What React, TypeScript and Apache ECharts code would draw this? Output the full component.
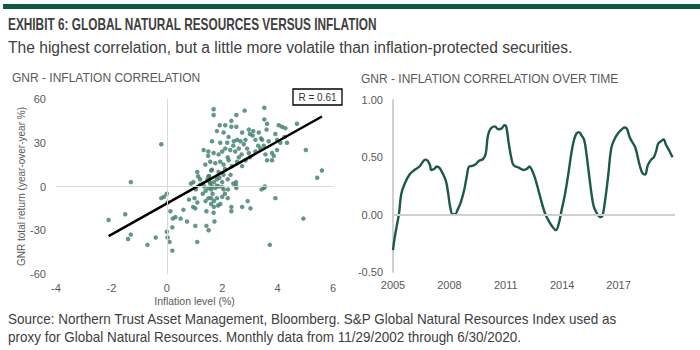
import React, { useEffect, useRef } from "react";
import * as echarts from "echarts";

// ---- Scatter data: inflation level (%) vs GNR total return (yoy %) ----
const inflation = [
  -2.1, -1.5, -1.4, -1.3, -1.3, -0.7, -0.4, -0.2, -0.2, -0.1, 0.0, 0.03, 0.0, 0.03, 0.1, 0.2, 0.2, 0.13, 0.22, 0.31,
  0.5, 0.73, 0.6, 1.03, 1.1, 1.03, 0.8, 1.0, 1.1, 0.95, 0.87, 0.96, 1.05, 1.43, 1.51, 1.43, 1.3, 1.4, 1.4, 1.5,
  1.5, 1.6, 1.7, 1.6, 1.63, 1.75, 1.87, 1.69, 1.72, 1.85, 1.93, 1.81, 1.6, 1.65, 2.05, 2.21, 2.51, 2.33, 2.33, 2.72,
  2.92, 3.02, 3.42, 3.51, 3.54, 3.92, 4.93, 3.72, 2.1, 2.2, 2.0, 1.7,
  1.1, 1.13, 1.2, 1.2, 1.3, 1.35, 1.47, 1.53, 1.6, 1.5, 1.33, 1.7, 1.55, 1.57, 1.81, 2.0, 1.81, 2.0, 1.51, 1.63,
  1.87, 2.05, 1.39, 1.57, 1.75, 1.93, 2.05, 2.23, 2.35, 2.54, 2.72, 2.84, 1.49, 1.69, 1.87, 2.0, 2.11, 2.29, 2.47, 2.6,
  2.78, 2.9, 2.96, 3.2, 3.38, 3.5, 3.56, 3.8, 3.98, 3.62, 3.86, 3.8, 5.02, 5.43, 5.6, 2.2, 2.1, 2.3, 1.9, 2.2,
  2.4, 2.5, 2.5, 2.6, 2.7, 3.0, 3.3, 2.4,
  1.69, 1.69, 3.52, 3.52, 2.81, 2.51, 1.91, 2.11, 2.33, 2.33, 1.81, 2.05, 2.23, 2.51, 2.72, 2.96, 3.12, 3.32, 3.62, 3.6,
  3.92, 4.04, 4.16, 4.28, 4.7, 4.25, 4.34, 4.1, 3.98, 3.68, 3.44, 3.2, 2.84, 2.66, 2.42, 2.54, 2.18, 1.93, 1.63, 3.1,
  3.0, 3.4,
];
const gnrReturn = [
  -23, -19, -36, -33, 3, -40, -35, 29, -8, -7, -5, -11, -31, -35, -38, -44, -28, -17, -22, -21,
  -22, -24, -16, -27, -38, -15, -9, -8, -11, -14, 2, 3, -2, -27, -30, -17, -5, -3, -10, -8,
  -1, -8, -10, -2, 0, -1, 0, -18, -24, -13, -12, -8, -12, -5, -2, -2, -1, -14, -17, -14,
  -10, -15, -2, -1, 0, -8, -22, -40, -5, -8, -7, -14,
  10, 7, 5, 1, 2, 0, 5, 7, 11, 24, 25, 3, 3, 2, 5, 3, 0.5, -0.4, 7, 11.5,
  10, 8, 15, 17, 16, 17, 15, 18, 14, 17, 14, 18, 21, 23, 22, 24, 26, 25, 24, 26,
  29, 26, 23, 24, 26, 28, 22, 23, 25, 18, 21, 18, 25, 6, 11, 20, 12, 8, 6, 5,
  2, 0.5, 3, 20, 22, 20, 28, 28,
  53, 49, 54, 46, 52, 49, 42, 42, 45, 41, 38, 37, 34, 41, 37, 39, 38, 37, 43, 39,
  36, 42, 41, 40, 43, 34, 30, 30, 32, 31, 32, 32, 32, 31, 31, 32, 30, 30, 31, 35,
  36, 33,
];
const trendX = [-2.1, 5.6];
const trendY = [-34, 48];
const rLabel = "R = 0.61";

// ---- Rolling correlation over time ----
const years = [
  2005.0, 2005.09, 2005.21, 2005.32, 2005.44, 2005.62, 2005.88, 2006.14, 2006.41, 2006.58, 2006.72, 2006.85, 2006.97,
  2007.04, 2007.2, 2007.32, 2007.46, 2007.64, 2007.82, 2007.94, 2008.04, 2008.17, 2008.31, 2008.43, 2008.61, 2008.78,
  2008.92, 2009.05, 2009.22, 2009.4, 2009.58, 2009.79, 2009.93, 2010.05, 2010.19, 2010.42, 2010.6, 2010.77, 2010.93,
  2011.02, 2011.16, 2011.3, 2011.42, 2011.69, 2011.95, 2012.13, 2012.25, 2012.39, 2012.57, 2012.74, 2012.92, 2013.09,
  2013.27, 2013.5, 2013.66, 2013.8, 2013.97, 2014.15, 2014.33, 2014.5, 2014.64, 2014.77, 2014.89, 2015.03, 2015.17,
  2015.29, 2015.42, 2015.56, 2015.68, 2015.82, 2016.0, 2016.12, 2016.26, 2016.44, 2016.61, 2016.79, 2016.97, 2017.14,
  2017.32, 2017.44, 2017.58, 2017.7, 2017.88, 2018.02, 2018.14, 2018.28, 2018.41, 2018.55, 2018.73, 2018.87, 2018.99,
  2019.11, 2019.25, 2019.39, 2019.52, 2019.69, 2019.87,
];
const correlation = [
  -0.31, -0.2, -0.09, 0.01, 0.18, 0.27, 0.35, 0.39, 0.42, 0.46, 0.48, 0.47, 0.43,
  0.39, 0.4, 0.42, 0.41, 0.36, 0.29, 0.18, 0.07, 0.005, 0.005, 0.04, 0.11, 0.21,
  0.33, 0.42, 0.425, 0.44, 0.47, 0.485, 0.53, 0.69, 0.75, 0.77, 0.745, 0.75, 0.78,
  0.77, 0.62, 0.49, 0.43, 0.41, 0.39, 0.4, 0.42, 0.39, 0.31, 0.21, 0.1, 0.01,
  -0.05, -0.11, -0.135, -0.09, 0.04, 0.18, 0.36, 0.55, 0.66, 0.71, 0.72, 0.69, 0.65,
  0.53, 0.36, 0.18, 0.07, 0.02, -0.02, -0.015, 0.1, 0.33, 0.58, 0.66, 0.71, 0.74,
  0.76, 0.75, 0.68, 0.64, 0.59, 0.5, 0.42, 0.36, 0.35, 0.43, 0.48, 0.5, 0.55,
  0.62, 0.64, 0.655, 0.61, 0.56, 0.5,
];

const titleText = "EXHIBIT 6: GLOBAL NATURAL RESOURCES VERSUS INFLATION";
const subtitleText = "The highest correlation, but a little more volatile than inflation-protected securities.";
const sourceLine1 = "Source: Northern Trust Asset Management, Bloomberg. S&P Global Natural Resources Index used as";
const sourceLine2 = "proxy for Global Natural Resources. Monthly data from 11/29/2002 through 6/30/2020.";
const leftTitle = "GNR - INFLATION CORRELATION";
const rightTitle = "GNR - INFLATION CORRELATION OVER TIME";

const FONT = "'Liberation Sans', Arial, sans-serif";
const GRAY = "#595959";
const DARK = "#404040";

export default function App() {
  const ref = useRef<HTMLDivElement>(null);
  useEffect(() => {
    if (!ref.current) return;
    const chart = echarts.init(ref.current, undefined, { renderer: "svg" });
    const scatterData = inflation.map((x, i) => [x, gnrReturn[i]]);
    const trendData = trendX.map((x, i) => [x, trendY[i]]);
    const lineData = years.map((y, i) => [y, correlation[i]]);
    const axisLabel = { color: GRAY, fontSize: 11, fontFamily: FONT };
    chart.setOption({
      animation: false,
      backgroundColor: "#ffffff",
      textStyle: { fontFamily: FONT },
      grid: [
        { left: 56, right: 367, top: 99, bottom: 76 },
        { left: 393, right: 25, top: 100, bottom: 78 },
      ],
      xAxis: [
        {
          gridIndex: 0, type: "value", min: -4, max: 6, interval: 2,
          axisLine: { show: false }, axisTick: { show: false }, splitLine: { show: false },
          axisLabel: { ...axisLabel, margin: 8 },
          name: "Inflation level (%)", nameLocation: "middle", nameGap: 21,
          nameTextStyle: { color: GRAY, fontSize: 10.5, fontFamily: FONT },
        },
        {
          gridIndex: 1, type: "value", min: 2005, max: 2020, interval: 3,
          axisLine: { show: false }, axisTick: { show: false }, splitLine: { show: false },
          axisLabel: { ...axisLabel, margin: 7, showMaxLabel: false, formatter: (v: number) => String(v) },
        },
      ],
      yAxis: [
        {
          gridIndex: 0, type: "value", min: -60, max: 60, interval: 30,
          axisLine: { show: false }, axisTick: { show: false }, splitLine: { show: false },
          axisLabel: { ...axisLabel, margin: 10 },
          name: "GNR total return (year-over-year %)", nameLocation: "middle", nameGap: 30,
          nameTextStyle: { color: GRAY, fontSize: 10, fontFamily: FONT },
        },
        {
          gridIndex: 1, type: "value", min: -0.5, max: 1, interval: 0.5,
          axisLine: { show: true, lineStyle: { color: "#d0d0d0", width: 2 } },
          axisTick: { show: false }, splitLine: { show: false },
          axisLabel: { ...axisLabel, margin: 10, formatter: (v: number) => v.toFixed(2) },
        },
      ],
      series: [
        {
          type: "scatter", xAxisIndex: 0, yAxisIndex: 0, data: [], z: 1, silent: true,
          markLine: {
            silent: true, symbol: "none", label: { show: false },
            lineStyle: { color: "#d9d9d9", width: 1, type: "solid" },
            data: [{ xAxis: 0 }, { yAxis: 0 }],
          },
        },
        {
          type: "scatter", xAxisIndex: 0, yAxisIndex: 0, data: scatterData, z: 3,
          symbolSize: 4.5, itemStyle: { color: "#3c7d68" },
        },
        {
          type: "line", xAxisIndex: 0, yAxisIndex: 0, data: trendData, z: 4,
          symbol: "none", lineStyle: { color: "#000000", width: 2.5 },
        },
        {
          type: "line", xAxisIndex: 1, yAxisIndex: 1, data: [], z: 1, silent: true,
          markLine: {
            silent: true, symbol: "none", label: { show: false },
            lineStyle: { color: "#d0d0d0", width: 2, type: "solid" },
            data: [{ yAxis: 0 }],
          },
        },
        {
          type: "line", xAxisIndex: 1, yAxisIndex: 1, data: lineData, z: 3,
          symbol: "none", smooth: 0.4, lineStyle: { color: "#1d5a42", width: 2.4 },
        },
      ],
      graphic: [
        { type: "rect", shape: { x: 3, y: 4, width: 697, height: 5 }, style: { fill: "#0b5a3f" } },
        {
          type: "text", x: 8, y: 24, scaleX: 0.74,
          style: { text: titleText, font: `bold 16px ${FONT}`, fill: DARK, textVerticalAlign: "middle" },
        },
        {
          type: "text", x: 8, y: 47, scaleX: 0.975,
          style: { text: subtitleText, font: `16px ${FONT}`, fill: DARK, textVerticalAlign: "middle" },
        },
        {
          type: "text", x: 12, y: 78,
          style: { text: leftTitle, font: `12px ${FONT}`, fill: GRAY, textVerticalAlign: "middle" },
        },
        {
          type: "text", x: 361, y: 79,
          style: { text: rightTitle, font: `12px ${FONT}`, fill: GRAY, textVerticalAlign: "middle" },
        },
        {
          type: "rect", shape: { x: 293, y: 89, width: 49, height: 16 },
          style: { fill: "#ffffff", stroke: "#000000", lineWidth: 1.3 },
        },
        {
          type: "text", x: 317.5, y: 97.5,
          style: { text: rLabel, font: `10px ${FONT}`, fill: "#333333", textAlign: "center", textVerticalAlign: "middle" },
        },
        {
          type: "text", x: 8, y: 319, scaleX: 0.9,
          style: { text: sourceLine1, font: `15px ${FONT}`, fill: DARK, textVerticalAlign: "middle" },
        },
        {
          type: "text", x: 8, y: 337, scaleX: 0.9,
          style: { text: sourceLine2, font: `15px ${FONT}`, fill: DARK, textVerticalAlign: "middle" },
        },
      ],
    });
    return () => chart.dispose();
  }, []);
  return (
    <div
      ref={ref}
      style={{ position: "fixed", left: 0, top: 0, width: 700, height: 350, background: "#fff" }}
    />
  );
}
